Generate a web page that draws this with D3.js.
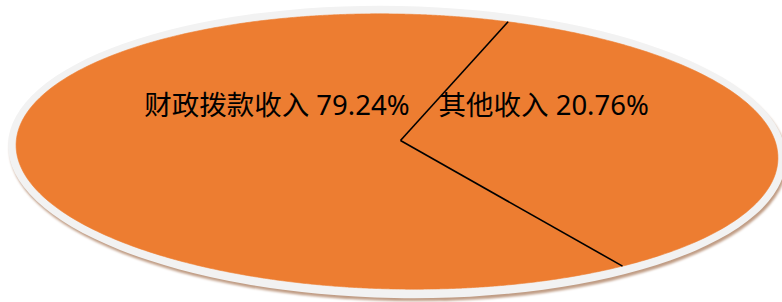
<!DOCTYPE html>
<html>
<head>
<meta charset="utf-8">
<script src="https://cdn.jsdelivr.net/npm/d3@7"></script>
<style>
  html, body { margin: 0; padding: 0; background: #ffffff; }
  svg { display: block; }
</style>
</head>
<body>
<svg id="chart" width="782" height="302"></svg>
<script>
// ---- data ----
const categories = ["财政拨款收入", "其他收入"];
const values = [79.24, 20.76];
const percentLabels = ["79.24%", "20.76%"];

// ---- layout ----
const W = 782, H = 302;
const ell = { cx: 397, cy: 151.5, rx: 381, ry: 137.5, rot: 1.1 };   // pie top face
const center = { x: 400.5, y: 140.5 };                              // pie apex (perspective)
const tiltStretch = 1.05;
const startAngle = 118.32 * Math.PI / 180;

const svg = d3.select("#chart");

const defs = svg.append("defs");
defs.append("filter").attr("id", "blur")
  .attr("x", "-5%").attr("y", "-5%").attr("width", "110%").attr("height", "110%")
  .append("feGaussianBlur").attr("stdDeviation", 0.8);

const rotT = `rotate(${ell.rot},${ell.cx},${ell.cy})`;

// shadow
svg.append("ellipse")
  .attr("cx", ell.cx + 1.5).attr("cy", ell.cy + 3.5)
  .attr("rx", ell.rx + 8).attr("ry", ell.ry + 8.5)
  .attr("transform", rotT)
  .attr("fill", "#c09c84")
  .attr("filter", "url(#blur)");

// light border
svg.append("ellipse")
  .attr("cx", ell.cx).attr("cy", ell.cy + 0.5)
  .attr("rx", ell.rx + 8).attr("ry", ell.ry + 8.5)
  .attr("transform", rotT)
  .attr("fill", "#f2f2f2");

// boundary point of a ray from the apex at pie angle a
const th = -ell.rot * Math.PI / 180;
function toLocal(x, y) {
  return [x * Math.cos(th) - y * Math.sin(th), x * Math.sin(th) + y * Math.cos(th)];
}
function boundary(a) {
  const phi = a - Math.PI / 2;
  const dx = Math.cos(phi), dy = tiltStretch * Math.sin(phi);
  const o = toLocal(center.x - ell.cx, center.y - ell.cy);
  const u = toLocal(dx, dy);
  const ox = o[0] / ell.rx, oy = o[1] / ell.ry;
  const ux = u[0] / ell.rx, uy = u[1] / ell.ry;
  const A = ux * ux + uy * uy, B = 2 * (ox * ux + oy * uy), C = ox * ox + oy * oy - 1;
  const t = (-B + Math.sqrt(B * B - 4 * A * C)) / (2 * A);
  return [center.x + t * dx, center.y + t * dy];
}

const pie = d3.pie().sort(null).value(d => d)
  .startAngle(startAngle).endAngle(startAngle + 2 * Math.PI);
const arcs = pie(values);

const line = d3.line();
const slices = svg.append("g");
arcs.forEach((d, i) => {
  const n = Math.max(8, Math.ceil((d.endAngle - d.startAngle) / 0.01));
  const pts = [[center.x, center.y]];
  for (let k = 0; k <= n; k++) {
    pts.push(boundary(d.startAngle + (d.endAngle - d.startAngle) * k / n));
  }
  slices.append("path")
    .attr("d", line(pts) + "Z")
    .attr("fill", "#ed7d31")
    .attr("stroke", "#ed7d31")
    .attr("stroke-width", 0.6);
});

// separators
const seps = svg.append("g");
arcs.forEach(d => {
  const p = boundary(d.startAngle);
  seps.append("line")
    .attr("x1", center.x).attr("y1", center.y)
    .attr("x2", p[0]).attr("y2", p[1])
    .attr("stroke", "#000").attr("stroke-width", 1.6);
});

// labels
const labelPos = [
  { x: center.x + 9, anchor: "end" },
  { x: center.x + 38, anchor: "start" }
];
svg.append("g").selectAll("text").data(arcs).join("text")
  .attr("x", (d, i) => labelPos[i].x)
  .attr("y", 115)
  .attr("text-anchor", (d, i) => labelPos[i].anchor)
  .attr("font-family", "'Noto Sans', 'Noto Sans CJK SC', sans-serif")
  .attr("font-size", 27.5)
  .attr("fill", "#000")
  .text((d, i) => categories[i] + " " + percentLabels[i]);
</script>
</body>
</html>
